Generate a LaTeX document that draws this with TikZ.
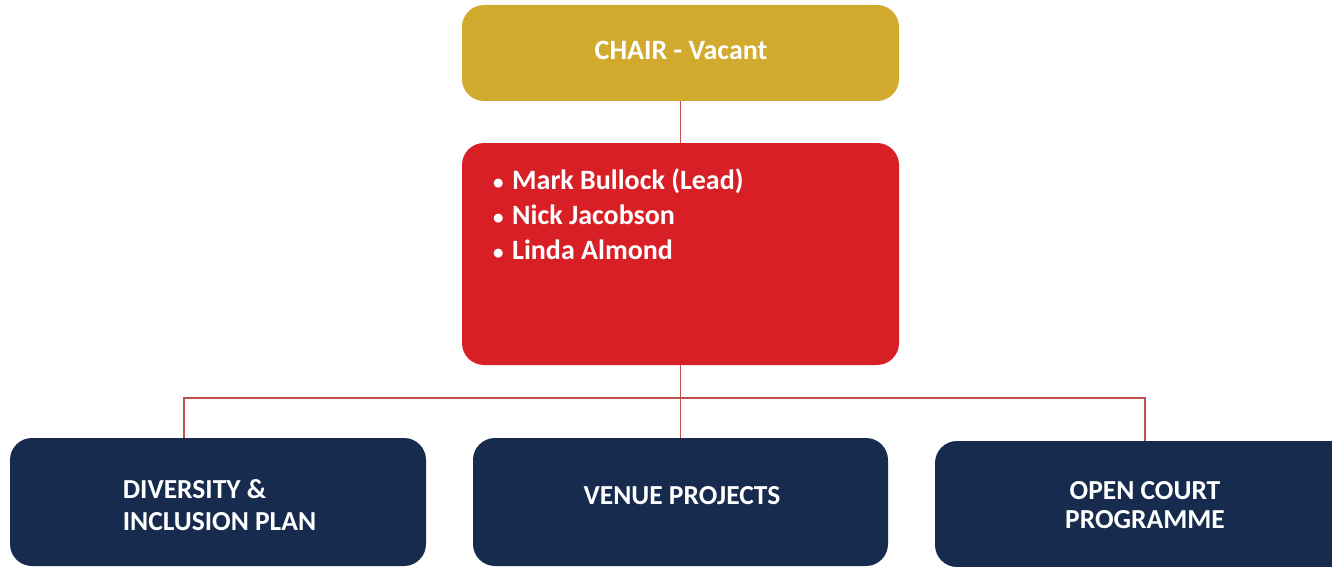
\documentclass[tikz,border=0pt]{standalone}
\usepackage{fontspec}
\setmainfont{Carlito}
\definecolor{gold}{HTML}{D1AA2E}
\definecolor{boxred}{HTML}{D91F26}
\definecolor{navy}{HTML}{172B4F}
\definecolor{linered}{HTML}{C0504D}
\newcommand{\bul}{\makebox[19pt][l]{\scalebox{0.75}{\textbullet}}}
\begin{document}
\begin{tikzpicture}[x=1pt,y=-1pt,
  box/.style={rounded corners=22pt, inner sep=0pt},
  lbl/.style={text=white, font=\bfseries\fontsize{28}{32}\selectfont, inner sep=0pt},
  conn/.style={draw=linered, line width=1.3pt}]
\useasboundingbox (0,0) rectangle (1332,567);
% boxes
\node[box, fill=gold, minimum width=437pt, minimum height=96pt] (chair) at (680.5,53) {};
\node[box, fill=boxred, minimum width=437pt, minimum height=222pt] (team) at (680.5,254) {};
\node[box, fill=navy, minimum width=416pt, minimum height=128pt] (div) at (218,502) {};
\node[box, fill=navy, minimum width=415pt, minimum height=128pt] (venue) at (680.5,502) {};
\node[box, fill=navy, minimum width=420pt, minimum height=126pt] (open) at (1145,504) {};
% texts
\node[lbl] (chairt) at (681,50) {CHAIR - Vacant};
\node[lbl, anchor=north west, align=left, font=\bfseries\fontsize{28}{35}\selectfont] (teamt) at (493,169) {%
  \bul Mark Bullock (Lead)\\
  \bul Nick Jacobson\\
  \bul Linda Almond};
\node[lbl, align=left, font=\bfseries\fontsize{27.5}{32}\selectfont] (divt) at (219.5,505) {DIVERSITY \&\\INCLUSION PLAN};
\node[lbl, font=\bfseries\fontsize{27.5}{32}\selectfont] (venuet) at (682,496) {VENUE PROJECTS};
\node[lbl, align=center, font=\bfseries\fontsize{27.5}{29}\selectfont] (opent) at (1145,505) {OPEN COURT\\PROGRAMME};
% connectors
\draw[conn] (chair.south) -- (team.north);
\draw[conn] (team.south) -- (venue.north);
\draw[conn] (div.north -| 184,0) -- (184,398) -- (1145,398) -- (open.north);
\end{tikzpicture}
\end{document}
